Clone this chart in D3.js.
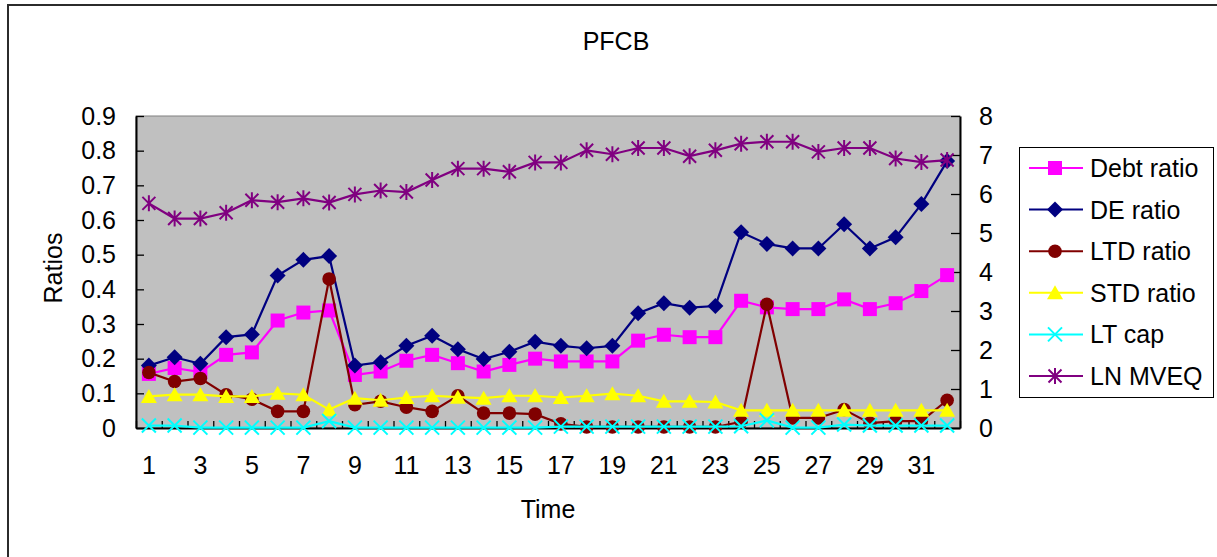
<!DOCTYPE html>
<html>
<head>
<meta charset="utf-8">
<script src="https://cdn.jsdelivr.net/npm/d3@7"></script>
<style>
  html, body { margin: 0; padding: 0; background: #fff; }
  svg { display: block; font-family: "Liberation Sans", Arial, sans-serif; }
</style>
</head>
<body>
<svg id="chart" width="1217" height="557"></svg>
<script>
// Time periods 1..32
const periods = d3.range(1, 33);
const xTickLabels = periods.filter(d => d % 2 === 1);
const leftTicks = [0, 0.1, 0.2, 0.3, 0.4, 0.5, 0.6, 0.7, 0.8, 0.9];
const rightTicks = [0, 1, 2, 3, 4, 5, 6, 7, 8];

// Ratio series (left axis)
const debtRatio = [0.156,0.173,0.161,0.211,0.218,0.310,0.333,0.339,0.153,0.163,0.194,0.211,0.187,0.163,0.182,0.200,0.192,0.192,0.192,0.252,0.269,0.262,0.262,0.367,0.348,0.343,0.343,0.371,0.343,0.360,0.395,0.441];
const deRatio   = [0.180,0.204,0.185,0.262,0.270,0.440,0.485,0.496,0.180,0.190,0.237,0.266,0.227,0.199,0.220,0.249,0.237,0.230,0.237,0.331,0.360,0.347,0.352,0.565,0.531,0.518,0.518,0.588,0.518,0.550,0.646,0.770];
const ltdRatio  = [0.160,0.134,0.143,0.096,0.083,0.048,0.048,0.430,0.067,0.077,0.060,0.048,0.093,0.043,0.043,0.040,0.012,0.003,0.003,0.003,0.003,0.003,0.003,0.018,0.357,0.029,0.029,0.053,0.014,0.020,0.020,0.080];
const stdRatio  = [0.091,0.096,0.096,0.091,0.091,0.100,0.096,0.053,0.086,0.080,0.088,0.093,0.089,0.086,0.093,0.093,0.088,0.093,0.099,0.093,0.077,0.077,0.075,0.051,0.051,0.051,0.051,0.051,0.051,0.051,0.051,0.051];
const ltCap     = [0.007,0.007,0.001,0.001,0.001,0.001,0.001,0.020,0.001,0.001,0.001,0.001,0.001,0.001,0.001,0.001,0.004,0.004,0.004,0.004,0.004,0.004,0.004,0.005,0.022,0.001,0.001,0.010,0.007,0.007,0.007,0.007];
// Log of market value of equity (right axis)
const lnMveq    = [5.76,5.37,5.37,5.52,5.84,5.79,5.89,5.78,5.99,6.09,6.05,6.36,6.65,6.65,6.57,6.81,6.81,7.12,7.02,7.18,7.18,6.97,7.12,7.29,7.34,7.34,7.08,7.18,7.18,6.91,6.82,6.87];

const series = [
  { name: "Debt ratio", values: debtRatio, color: "#FF00FF", marker: "square",   axis: "left" },
  { name: "DE ratio",   values: deRatio,   color: "#000080", marker: "diamond",  axis: "left" },
  { name: "LTD ratio",  values: ltdRatio,  color: "#800000", marker: "circle",   axis: "left" },
  { name: "STD ratio",  values: stdRatio,  color: "#FFFF00", marker: "triangle", axis: "left" },
  { name: "LT cap",     values: ltCap,     color: "#00FFFF", marker: "x",        axis: "left" },
  { name: "LN MVEQ",    values: lnMveq,    color: "#800080", marker: "star",     axis: "right" }
];

const FONT = 25;
const svg = d3.select("#chart");
const plot = { left: 136, right: 960, top: 116, bottom: 428 };

// Chart frame
svg.append("rect")
  .attr("x", 8).attr("y", 5).attr("width", 1240).attr("height", 600)
  .attr("fill", "#fff").attr("stroke", "#2b2b2b").attr("stroke-width", 2);

const x = d3.scaleBand().domain(periods).range([plot.left, plot.right]);
const xc = d => x(d) + x.bandwidth() / 2;
const yL = d3.scaleLinear().domain([0, 0.9]).range([plot.bottom, plot.top]);
const yR = d3.scaleLinear().domain([0, 8]).range([plot.bottom, plot.top]);

// Plot background
svg.append("rect")
  .attr("x", plot.left).attr("y", plot.top)
  .attr("width", plot.right - plot.left).attr("height", plot.bottom - plot.top)
  .attr("fill", "#C0C0C0").attr("stroke", "#808080").attr("stroke-width", 1);

// Title
svg.append("text").attr("x", 616).attr("y", 50).attr("text-anchor", "middle")
  .attr("font-size", FONT).text("PFCB");

// Left axis
const gL = svg.append("g").attr("transform", `translate(${plot.left},0)`)
  .call(d3.axisLeft(yL).tickValues(leftTicks).tickFormat(d3.format("")).tickSizeInner(-8).tickSizeOuter(0).tickPadding(20));
// Right axis
const gR = svg.append("g").attr("transform", `translate(${plot.right},0)`)
  .call(d3.axisRight(yR).tickValues(rightTicks).tickFormat(d3.format("d")).tickSizeInner(-9).tickSizeOuter(0).tickPadding(19));
// Category boundary ticks along the bottom
const xEdge = d3.scaleLinear().domain([0, periods.length]).range([plot.left, plot.right]);
const gXt = svg.append("g").attr("transform", `translate(0,${plot.bottom})`)
  .call(d3.axisBottom(xEdge).tickValues(d3.range(0, periods.length + 1)).tickFormat("").tickSizeInner(-7).tickSizeOuter(0));
// Category labels
const gX = svg.append("g").attr("transform", `translate(0,${plot.bottom})`)
  .call(d3.axisBottom(x).tickValues(xTickLabels).tickSize(0).tickPadding(28));
gX.select(".domain").remove();

[gL, gR, gXt].forEach(g => {
  g.select(".domain").attr("stroke", "#000").attr("stroke-width", 2);
  g.selectAll(".tick line").attr("stroke", "#000").attr("stroke-width", 1.3);
});
[gL, gR, gX].forEach(g => g.selectAll("text").attr("font-size", FONT).attr("fill", "#000")
  .attr("font-family", '"Liberation Sans", Arial, sans-serif'));

// Axis titles
svg.append("text").attr("transform", "translate(62,268) rotate(-90)")
  .attr("text-anchor", "middle").attr("font-size", FONT).text("Ratios");
svg.append("text").attr("x", 548).attr("y", 518).attr("text-anchor", "middle")
  .attr("font-size", FONT).text("Time");

// Marker drawing
function drawMarker(g, type, color) {
  switch (type) {
    case "square":
      g.append("rect").attr("x", -7).attr("y", -7).attr("width", 14).attr("height", 14).attr("fill", color);
      break;
    case "diamond":
      g.append("path").attr("d", "M0,-8L8,0L0,8L-8,0Z").attr("fill", color);
      break;
    case "circle":
      g.append("circle").attr("r", 6.8).attr("fill", color);
      break;
    case "triangle":
      g.append("path").attr("d", "M0,-7.5L8,6.5L-8,6.5Z").attr("fill", color);
      break;
    case "x":
      g.append("path").attr("d", "M-7,-7L7,7M-7,7L7,-7")
        .attr("stroke", color).attr("stroke-width", 2).attr("fill", "none");
      break;
    case "star":
      g.append("path").attr("d", "M-6.5,-6.5L6.5,6.5M-6.5,6.5L6.5,-6.5M0,-8L0,8")
        .attr("stroke", color).attr("stroke-width", 2).attr("fill", "none");
      break;
  }
}

// Series lines and markers
series.forEach(s => {
  const y = s.axis === "left" ? yL : yR;
  const line = d3.line().x((d, i) => xc(periods[i])).y(d => y(d));
  const g = svg.append("g");
  g.append("path").datum(s.values).attr("d", line)
    .attr("fill", "none").attr("stroke", s.color).attr("stroke-width", 2.2);
  s.values.forEach((v, i) => {
    const m = g.append("g").attr("transform", `translate(${xc(periods[i])},${y(v)})`);
    drawMarker(m, s.marker, s.color);
  });
});

// Legend
const legend = svg.append("g");
legend.append("rect").attr("x", 1019.5).attr("y", 147.5).attr("width", 194).attr("height", 250)
  .attr("fill", "#fff").attr("stroke", "#000").attr("stroke-width", 1);
series.forEach((s, i) => {
  const cy = 168 + i * 41.6;
  legend.append("line").attr("x1", 1029).attr("x2", 1083).attr("y1", cy).attr("y2", cy)
    .attr("stroke", s.color).attr("stroke-width", 2);
  drawMarker(legend.append("g").attr("transform", `translate(1055,${cy})`), s.marker, s.color);
  legend.append("text").attr("x", 1090).attr("y", cy + 9).attr("font-size", FONT).text(s.name);
});
</script>
</body>
</html>
